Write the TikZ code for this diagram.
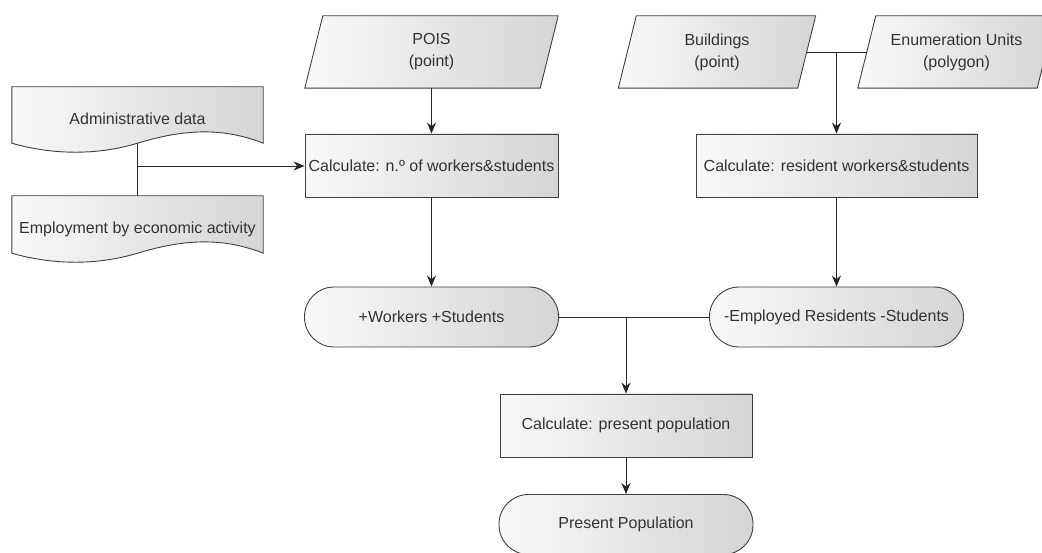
\documentclass[tikz,border=0pt]{standalone}
\usepackage{fontspec}
\setmainfont{Liberation Sans}
\usetikzlibrary{arrows.meta,calc,backgrounds}
\begin{document}
\begin{tikzpicture}[x=1pt,y=-1pt,
  shadefill/.style={left color=gray!5, right color=gray!33, draw=black!75, line width=0.9pt},
  txt/.style={font=\fontsize{16}{22}\selectfont, text=black!80},
  procbox/.style={shadefill, txt, rectangle, minimum width=253pt, minimum height=63pt, inner sep=0pt},
  termbox/.style={shadefill, txt, rectangle, rounded corners=29.5pt, minimum width=254pt, minimum height=60pt, inner sep=0pt},
  databox/.style={txt, rectangle, minimum height=72pt, align=center, inner sep=0pt},
  docbox/.style={rectangle, minimum width=251pt, minimum height=56pt, inner sep=0pt},
  conn/.style={draw=black!85, line width=0.9pt},
  arr/.style={conn, -{Stealth[length=11pt,width=9pt]}},
]
\useasboundingbox (0,0) rectangle (1042,553);

% data inputs (node = mid-height band of the parallelogram)
\node[databox, minimum width=235pt] (pois) at (431.5,52) {POIS\\(point)};
\node[databox, minimum width=179pt] (bldg) at (717,52) {Buildings\\(point)};
\node[databox, minimum width=179pt] (enum) at (956.5,52) {Enumeration Units\\(polygon)};

% documents
\node[docbox] (admin) at (137.5,115) {};
\node[docbox, minimum height=57pt] (emp) at (137.5,224.5) {};

\begin{pgfonlayer}{background}
\foreach \p in {pois,bldg,enum}{
  \path[shadefill] ($(\p.north west)+(9,0)$) -- ($(\p.north east)+(9,0)$)
    -- ($(\p.south east)+(-9,0)$) -- ($(\p.south west)+(-9,0)$) -- cycle;
}
\foreach \d in {admin,emp}{
  \path[shadefill] (\d.north west) -- (\d.north east) -- (\d.south east)
    .. controls ($(\d.south east)+(-43,-17)$) and ($(\d.south)+(43,-13)$) .. (\d.south)
    .. controls ($(\d.south)+(-43,13)$) and ($(\d.south west)+(38,11)$) .. (\d.south west) -- cycle;
}
\end{pgfonlayer}
\node[txt] (adminlbl) at ($(admin.center)+(0,4)$) {Administrative data};
\node[txt] (emplbl) at ($(emp.center)+(0,5)$) {Employment by economic activity};

% processes
\node[procbox] (calc1) at (431.5,165.5) {Calculate: n.º of workers\&students};
\node[procbox, minimum width=281pt] (calc2) at (836.5,165.5) {Calculate: resident workers\&students};
\node[termbox] (work) at (431.5,317) {+Workers +Students};
\node[termbox] (empl) at (836.5,317) {-Employed Residents -Students};
\node[procbox, minimum width=252pt] (calc3) at (626,425.5) {Calculate: present population};
\node[termbox] (pres) at (626,524.5) {Present Population};

% connectors
\draw[conn] (admin.south) -- (emp.north);
\coordinate (j1) at (137.5,166);
\draw[arr] (j1) -- (j1 -| calc1.west);
\draw[arr] (pois) -- (calc1);
\draw[conn] (bldg.east) -- (enum.west);
\coordinate (j2) at (calc2.north |- bldg.east);
\draw[arr] (j2) -- (calc2.north);
\draw[arr] (calc1) -- (work);
\draw[arr] (calc2) -- (empl);
\draw[conn] (work.east) -- (empl.west);
\coordinate (j3) at (calc3.north |- work.east);
\draw[arr] (j3) -- (calc3.north);
\draw[arr] (calc3) -- (pres);
\end{tikzpicture}
\end{document}
